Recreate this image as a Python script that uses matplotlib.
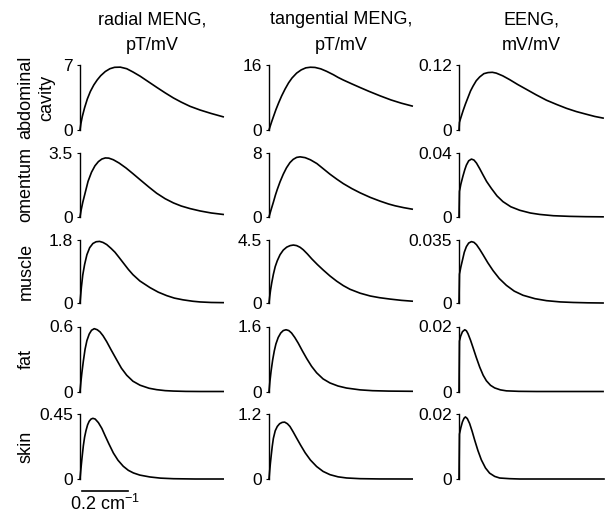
import matplotlib
matplotlib.use("Agg")
import matplotlib.pyplot as plt
from matplotlib import transforms

plt.rcParams['font.family'] = ['Liberation Sans', 'DejaVu Sans']
plt.rcParams['font.size'] = 13

col_titles = [("radial MENG,", "pT/mV"),
              ("tangential MENG,", "pT/mV"),
              ("EENG,", "mV/mV")]
row_labels = [("abdominal", "cavity"), ("omentum",), ("muscle",), ("fat",), ("skin",)]

# top tick value of each panel (row, column) and its label
ymax = [[7, 16, 0.12],
        [3.5, 8, 0.04],
        [1.8, 4.5, 0.035],
        [0.6, 1.6, 0.02],
        [0.45, 1.2, 0.02]]
ymax_labels = [["7", "16", "0.12"],
               ["3.5", "8", "0.04"],
               ["1.8", "4.5", "0.035"],
               ["0.6", "1.6", "0.02"],
               ["0.45", "1.2", "0.02"]]

# spatial frequency (cm^-1) and amplitude
radial_x = [
    [0, 0.004, 0.01, 0.02, 0.032, 0.045, 0.06, 0.075, 0.09, 0.11, 0.13, 0.15, 0.175, 0.203, 0.23,
     0.261, 0.30, 0.333, 0.37, 0.406, 0.44, 0.478, 0.522, 0.57, 0.622],
    [0, 0.005, 0.012, 0.022, 0.035, 0.05, 0.065, 0.08, 0.095, 0.11, 0.125, 0.145, 0.17, 0.2, 0.23,
     0.261, 0.30, 0.333, 0.37, 0.406, 0.44, 0.478, 0.522, 0.57, 0.622],
    [0, 0.006, 0.012, 0.02, 0.03, 0.042, 0.056, 0.07, 0.085, 0.10, 0.116, 0.135, 0.152, 0.17, 0.19,
     0.21, 0.23, 0.26, 0.304, 0.34, 0.377, 0.41, 0.448, 0.49, 0.522, 0.57, 0.622],
    [0, 0.004, 0.008, 0.0145, 0.022, 0.03, 0.04, 0.05, 0.062, 0.075, 0.087, 0.10, 0.116, 0.135, 0.16,
     0.18, 0.203, 0.23, 0.261, 0.30, 0.333, 0.37, 0.406, 0.46, 0.522, 0.622],
    [0, 0.004, 0.008, 0.0145, 0.02, 0.026, 0.033, 0.04, 0.048, 0.056, 0.066, 0.08, 0.095, 0.109, 0.125,
     0.145, 0.165, 0.188, 0.21, 0.232, 0.26, 0.304, 0.35, 0.406, 0.5, 0.622],
]
radial_y = [
    [0, 0.7, 1.45, 2.4, 3.35, 4.15, 4.85, 5.4, 5.85, 6.3, 6.6, 6.75, 6.77, 6.6, 6.25,
     5.8, 5.15, 4.6, 4.0, 3.45, 3.0, 2.55, 2.15, 1.78, 1.42],
    [0, 0.38, 0.8, 1.3, 1.95, 2.45, 2.8, 3.03, 3.17, 3.23, 3.22, 3.13, 2.95, 2.68, 2.37,
     2.04, 1.63, 1.3, 1.0, 0.77, 0.6, 0.46, 0.33, 0.22, 0.14],
    [0, 0.45, 0.80, 1.10, 1.38, 1.58, 1.70, 1.75, 1.76, 1.73, 1.67, 1.56, 1.45, 1.30, 1.13,
     0.96, 0.81, 0.63, 0.44, 0.31, 0.21, 0.14, 0.09, 0.05, 0.03, 0.015, 0.01],
    [0, 0.09, 0.17, 0.28, 0.39, 0.47, 0.53, 0.565, 0.58, 0.57, 0.55, 0.515, 0.46, 0.385, 0.29,
     0.215, 0.15, 0.095, 0.058, 0.03, 0.017, 0.008, 0.004, 0.001, 0, 0],
    [0, 0.07, 0.135, 0.23, 0.29, 0.335, 0.375, 0.40, 0.415, 0.42, 0.415, 0.39, 0.35, 0.30, 0.245,
     0.18, 0.13, 0.088, 0.06, 0.042, 0.027, 0.014, 0.006, 0.002, 0, 0],
]

tangential_x = [
    [0, 0.005, 0.012, 0.02, 0.03, 0.042, 0.055, 0.07, 0.085, 0.10, 0.12, 0.14, 0.16, 0.18, 0.20,
     0.225, 0.25, 0.28, 0.30, 0.323, 0.36, 0.396, 0.435, 0.483, 0.53, 0.575, 0.622],
    [0, 0.005, 0.01, 0.019, 0.028, 0.036, 0.048, 0.062, 0.076, 0.091, 0.105, 0.12, 0.135, 0.157, 0.18,
     0.208, 0.235, 0.265, 0.295, 0.323, 0.36, 0.396, 0.44, 0.483, 0.52, 0.548, 0.585, 0.622],
    [0, 0.003, 0.007, 0.012, 0.019, 0.027, 0.036, 0.048, 0.062, 0.077, 0.092, 0.106, 0.12, 0.135, 0.149,
     0.167, 0.186, 0.21, 0.236, 0.265, 0.294, 0.323, 0.352, 0.396, 0.44, 0.48, 0.526, 0.575, 0.622],
    [0, 0.004, 0.009, 0.016, 0.023, 0.03, 0.04, 0.051, 0.062, 0.074, 0.086, 0.098, 0.112, 0.127, 0.145,
     0.164, 0.185, 0.207, 0.235, 0.265, 0.30, 0.337, 0.396, 0.45, 0.52, 0.622],
    [0, 0.003, 0.006, 0.009, 0.014, 0.019, 0.027, 0.036, 0.046, 0.057, 0.068, 0.08, 0.091, 0.105, 0.12,
     0.138, 0.157, 0.18, 0.207, 0.235, 0.265, 0.30, 0.337, 0.396, 0.48, 0.622],
]
tangential_y = [
    [0, 0.9, 2.1, 3.4, 5.0, 6.7, 8.4, 10.1, 11.6, 12.8, 14.0, 14.8, 15.3, 15.45, 15.4,
     15.05, 14.45, 13.6, 12.95, 12.3, 11.35, 10.45, 9.5, 8.4, 7.4, 6.6, 5.9],
    [0, 0.5, 1.0, 1.85, 2.75, 3.45, 4.4, 5.35, 6.15, 6.8, 7.2, 7.45, 7.52, 7.42, 7.15,
     6.68, 6.05, 5.35, 4.72, 4.17, 3.55, 3.02, 2.45, 1.98, 1.62, 1.4, 1.17, 0.98],
    [0, 0.45, 0.95, 1.45, 2.05, 2.6, 3.02, 3.45, 3.78, 3.99, 4.1, 4.14, 4.1, 3.98, 3.8,
     3.5, 3.15, 2.75, 2.35, 1.93, 1.56, 1.24, 0.98, 0.7, 0.5, 0.38, 0.28, 0.19, 0.13],
    [0, 0.25, 0.5, 0.78, 1.0, 1.17, 1.33, 1.44, 1.5, 1.52, 1.5, 1.44, 1.33, 1.19, 1.0,
     0.81, 0.62, 0.46, 0.31, 0.21, 0.135, 0.085, 0.04, 0.02, 0.01, 0.005],
    [0, 0.15, 0.29, 0.41, 0.6, 0.75, 0.89, 0.97, 1.02, 1.045, 1.05, 1.02, 0.97, 0.87, 0.755,
     0.62, 0.485, 0.35, 0.23, 0.14, 0.08, 0.04, 0.019, 0.006, 0.001, 0],
]

eeng_x = [
    [0, 0.002, 0.006, 0.012, 0.018, 0.028, 0.039, 0.05, 0.061, 0.075, 0.09, 0.108, 0.126, 0.145, 0.162,
     0.19, 0.22, 0.255, 0.293, 0.335, 0.38, 0.425, 0.467, 0.51, 0.554, 0.59, 0.626],
    [0, 0.002, 0.008, 0.017, 0.025, 0.032, 0.042, 0.054, 0.065, 0.076, 0.09, 0.104, 0.12, 0.141, 0.165,
     0.191, 0.225, 0.264, 0.31, 0.351, 0.41, 0.481, 0.55, 0.626],
    [0, 0.002, 0.008, 0.015, 0.023, 0.032, 0.042, 0.054, 0.065, 0.076, 0.09, 0.104, 0.125, 0.148, 0.175,
     0.206, 0.24, 0.278, 0.33, 0.38, 0.44, 0.496, 0.56, 0.626],
    [0, 0.002, 0.007, 0.015, 0.025, 0.032, 0.039, 0.05, 0.061, 0.075, 0.09, 0.105, 0.119, 0.137, 0.155,
     0.18, 0.206, 0.26, 0.337, 0.626],
    [0, 0.002, 0.008, 0.015, 0.022, 0.028, 0.036, 0.046, 0.057, 0.068, 0.082, 0.097, 0.115, 0.133, 0.155,
     0.177, 0.22, 0.264, 0.63],
]
eeng_y = [
    [0, 0.014, 0.02, 0.028, 0.036, 0.048, 0.06, 0.072, 0.081, 0.091, 0.098, 0.104, 0.106, 0.1065, 0.105,
     0.1, 0.093, 0.084, 0.075, 0.065, 0.055, 0.047, 0.040, 0.034, 0.029, 0.025, 0.022],
    [0, 0.016, 0.0205, 0.0255, 0.0295, 0.0324, 0.0351, 0.0362, 0.0356, 0.0337, 0.0302, 0.0264, 0.0222, 0.0178, 0.0132,
     0.0096, 0.0064, 0.0042, 0.0025, 0.0016, 0.0008, 0.0004, 0.0002, 0.0001],
    [0, 0.016, 0.02, 0.0238, 0.0282, 0.0313, 0.0333, 0.0341, 0.0337, 0.0324, 0.0298, 0.0269, 0.0224, 0.018, 0.0136,
     0.0098, 0.0066, 0.0043, 0.0024, 0.0013, 0.0006, 0.0003, 0.0001, 0],
    [0, 0.0155, 0.017, 0.0184, 0.019, 0.0187, 0.0178, 0.0158, 0.0135, 0.0105, 0.0075, 0.005, 0.0033, 0.0019, 0.0011,
     0.0005, 0.0002, 0.00005, 0, 0],
    [0, 0.0138, 0.0158, 0.0176, 0.0187, 0.0191, 0.0186, 0.0171, 0.0147, 0.012, 0.0088, 0.0059, 0.0034, 0.0018, 0.0008,
     0.0003, 0.0001, 0, 0],
]

xs = [radial_x, tangential_x, eeng_x]
ys = [radial_y, tangential_y, eeng_y]

scale_len = 0.2  # cm^-1

W, H = 609, 513
fig = plt.figure(figsize=(W / 100, H / 100), dpi=100)

# panel placement in pixels
col_left = [80, 269, 459]
panel_w = 145
row_top = [65, 153, 240, 326.5, 414]
row_bot = [130, 217, 303, 391.5, 479]

axes = []
for r in range(5):
    row_axes = []
    for c in range(3):
        ax = fig.add_axes([col_left[c] / W, 1 - row_bot[r] / H,
                           panel_w / W, (row_bot[r] - row_top[r]) / H])
        ax.plot(xs[c][r], ys[c][r], color='black', lw=1.2, clip_on=False,
                solid_joinstyle='round')
        ax.set_xlim(0, 0.63)
        ax.set_ylim(0, ymax[r][c])
        for s in ['top', 'right', 'bottom']:
            ax.spines[s].set_visible(False)
        ax.spines['left'].set_linewidth(1.0)
        ax.set_xticks([])
        ax.set_yticks([0, ymax[r][c]])
        ax.set_yticklabels(["0", ymax_labels[r][c]])
        ax.tick_params(axis='y', length=2, width=0.8, pad=3, labelsize=12.5)
        ax.patch.set_visible(False)
        row_axes.append(ax)
    axes.append(row_axes)

# column titles
for c in range(3):
    cx = (col_left[c] + panel_w / 2) / W
    fig.text(cx, 1 - 20 / H, col_titles[c][0], ha='center', va='center')
    fig.text(cx, 1 - 45 / H, col_titles[c][1], ha='center', va='center')

# row labels
for r in range(5):
    cy = 1 - (row_top[r] + row_bot[r]) / 2 / H
    if len(row_labels[r]) == 2:
        fig.text(26 / W, cy, row_labels[r][0], rotation=90, ha='center', va='center')
        fig.text(47 / W, cy, row_labels[r][1], rotation=90, ha='center', va='center')
    else:
        fig.text(26 / W, cy, row_labels[r][0], rotation=90, ha='center', va='center')

# scale bar under the bottom left panel
ax = axes[4][0]
tr = transforms.blended_transform_factory(ax.transData, ax.transAxes)
ax.plot([0.009, 0.009 + scale_len], [-0.18, -0.18], color='black', lw=1.2,
        transform=tr, clip_on=False)
fig.text(70 / W, 1 - 494 / H, r"0.2 cm$^{\mathregular{-1}}$", ha='left', va='top')

fig.savefig("out.png", dpi=100)
